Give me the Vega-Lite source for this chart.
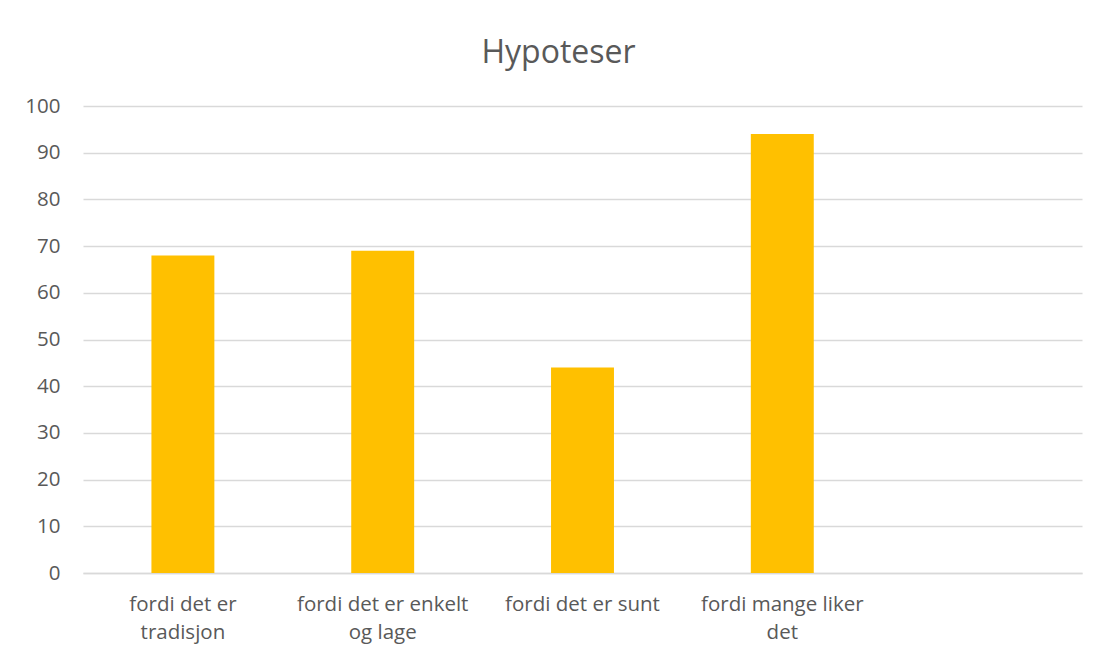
{
  "$schema": "https://vega.github.io/schema/vega-lite/v6.json",
  "width": 999,
  "height": 467,
  "autosize": {"type": "none"},
  "padding": {"left": 83, "top": 106, "right": 19, "bottom": 86},
  "background": "white",
  "title": {
    "text": "Hypoteser",
    "font": "Open Sans",
    "fontSize": 32,
    "fontWeight": "normal",
    "color": "#595959",
    "offset": 26,
    "dx": -24
  },
  "data": {
    "values": [
      {"kategori": "fordi det er tradisjon", "verdi": 68},
      {"kategori": "fordi det er enkelt og lage", "verdi": 69},
      {"kategori": "fordi det er sunt", "verdi": 44},
      {"kategori": "fordi mange liker det", "verdi": 94}
    ]
  },
  "mark": {"type": "bar", "color": "#ffc000"},
  "encoding": {
    "x": {
      "field": "kategori",
      "type": "nominal",
      "sort": null,
      "scale": {
        "domain": ["fordi det er tradisjon", "fordi det er enkelt og lage", "fordi det er sunt", "fordi mange liker det", " "],
        "paddingInner": 0.685,
        "paddingOuter": 0.3425
      },
      "axis": {
        "title": null,
        "labelAngle": 0,
        "labelFont": "Open Sans",
        "labelFontSize": 20.5,
        "labelColor": "#595959",
        "labelPadding": 21,
        "labelLineHeight": 28,
        "labelExpr": "datum.value == 'fordi det er tradisjon' ? ['fordi det er', 'tradisjon'] : datum.value == 'fordi det er enkelt og lage' ? ['fordi det er enkelt', 'og lage'] : datum.value == 'fordi mange liker det' ? ['fordi mange liker', 'det'] : datum.value",
        "ticks": false,
        "domainColor": "#d9d9d9",
        "domainWidth": 1.5,
        "grid": false
      }
    },
    "y": {
      "field": "verdi",
      "type": "quantitative",
      "scale": {"domain": [0, 100]},
      "axis": {
        "title": null,
        "values": [0, 10, 20, 30, 40, 50, 60, 70, 80, 90, 100],
        "labelFont": "Open Sans",
        "labelFontSize": 20.5,
        "labelColor": "#595959",
        "labelPadding": 23,
        "ticks": false,
        "domain": false,
        "gridColor": "#d9d9d9",
        "gridWidth": 1.3
      }
    }
  },
  "config": {"view": {"stroke": null}}
}
